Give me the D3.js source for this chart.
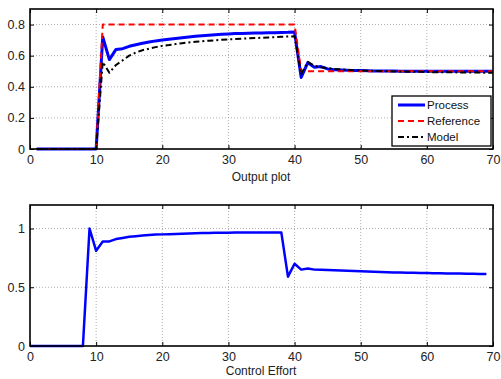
<!DOCTYPE html>
<html>
<head>
<meta charset="utf-8">
<script src="https://cdn.jsdelivr.net/npm/d3@7"></script>
<style>
  body { margin: 0; background: #fff; }
  svg { font-family: "Liberation Sans", Arial, sans-serif; }
  .grid line { stroke: #999; stroke-dasharray: 1,2; stroke-width: 0.8; }
</style>
</head>
<body>
<div id="chart"></div>
<script>
// time axes
const tTop = d3.range(1, 71);      // output plot samples 1..70
const tBottom = d3.range(0, 70);   // control effort samples 0..69

// output plot series
const processVals = [0,0,0,0,0,0,0,0,0,0,
  0.72,0.575,0.64,0.645,0.66,0.67,0.68,0.688,0.695,0.70,
  0.705,0.71,0.715,0.72,0.725,0.728,0.731,0.734,0.737,0.74,
  0.742,0.743,0.744,0.745,0.746,0.747,0.748,0.749,0.75,0.752,
  0.46,0.555,0.525,0.53,0.515,0.51,0.508,0.506,0.505,0.504,
  0.503,0.502,0.502,0.501,0.501,0.5,0.5,0.5,0.5,0.5,
  0.5,0.5,0.5,0.5,0.5,0.5,0.5,0.5,0.5,0.5];
const referenceVals = [0,0,0,0,0,0,0,0,0,0,
  0.8,0.8,0.8,0.8,0.8,0.8,0.8,0.8,0.8,0.8,
  0.8,0.8,0.8,0.8,0.8,0.8,0.8,0.8,0.8,0.8,
  0.8,0.8,0.8,0.8,0.8,0.8,0.8,0.8,0.8,0.8,
  0.5,0.5,0.5,0.5,0.5,0.5,0.5,0.5,0.5,0.5,
  0.5,0.5,0.5,0.5,0.5,0.5,0.5,0.5,0.5,0.5,
  0.5,0.5,0.5,0.5,0.5,0.5,0.5,0.5,0.5,0.5];
const modelVals = [0,0,0,0,0,0,0,0,0,0,
  0.56,0.49,0.54,0.57,0.60,0.62,0.635,0.645,0.655,0.663,
  0.668,0.675,0.68,0.685,0.69,0.693,0.696,0.699,0.702,0.705,
  0.707,0.709,0.711,0.713,0.715,0.717,0.719,0.721,0.723,0.725,
  0.48,0.56,0.535,0.525,0.52,0.515,0.512,0.509,0.507,0.505,
  0.503,0.502,0.501,0.5,0.499,0.498,0.497,0.496,0.496,0.495,
  0.494,0.494,0.493,0.493,0.492,0.492,0.491,0.491,0.49,0.49];

// control effort series
const controlVals = [0,0,0,0,0,0,0,0,0,1.0,
  0.81,0.89,0.89,0.91,0.92,0.93,0.935,0.94,0.945,0.948,
  0.95,0.952,0.954,0.956,0.958,0.96,0.961,0.962,0.963,0.964,
  0.964,0.965,0.965,0.965,0.965,0.965,0.965,0.965,0.965,0.59,
  0.70,0.65,0.66,0.65,0.648,0.646,0.644,0.642,0.64,0.638,
  0.636,0.634,0.632,0.63,0.628,0.626,0.625,0.624,0.623,0.622,
  0.621,0.62,0.619,0.618,0.617,0.616,0.615,0.614,0.613,0.612];

const xTicks = [0, 10, 20, 30, 40, 50, 60, 70];
const yTicksTop = [0, 0.2, 0.4, 0.6, 0.8];
const yTicksBottom = [0, 0.5, 1];
const legendNames = ["Process", "Reference", "Model"];

const width = 501, height = 379;
const svg = d3.select("#chart").append("svg")
  .attr("width", width).attr("height", height);

function panel(top, bottom, yDomain, yTicks, yFmt, series, label, labelY) {
  const x = d3.scaleLinear().domain([0, 70]).range([30, 493]);
  const y = d3.scaleLinear().domain(yDomain).range([bottom, top]);
  const g = svg.append("g");

  g.append("g").attr("class", "grid")
    .selectAll("line.v").data(xTicks.slice(1, -1)).join("line")
    .attr("x1", d => x(d)).attr("x2", d => x(d)).attr("y1", top).attr("y2", bottom);
  g.append("g").attr("class", "grid")
    .selectAll("line.h").data(yTicks.slice(1)).join("line")
    .attr("x1", 30).attr("x2", 493).attr("y1", d => y(d)).attr("y2", d => y(d));

  const line = d3.line().x(d => x(d[0])).y(d => y(d[1]));
  series.forEach(s => {
    g.append("path")
      .datum(s.t.map((t, i) => [t, s.v[i]]))
      .attr("d", line)
      .attr("fill", "none")
      .attr("stroke", s.color)
      .attr("stroke-width", s.w)
      .attr("stroke-dasharray", s.dash || null)
      .attr("stroke-linejoin", "round");
  });

  // box with inward ticks on all sides (MATLAB style)
  const ax = d3.axisBottom(x).tickValues(xTicks).tickSize(-4).tickPadding(6).tickFormat(d3.format("d"));
  g.append("g").attr("transform", `translate(0,${bottom})`).call(ax);
  g.append("g").attr("transform", `translate(0,${top})`)
    .call(d3.axisTop(x).tickValues(xTicks).tickSize(-4).tickFormat(""));
  g.append("g").attr("transform", "translate(30,0)")
    .call(d3.axisLeft(y).tickValues(yTicks).tickSize(-4).tickPadding(5).tickFormat(yFmt));
  g.append("g").attr("transform", "translate(493,0)")
    .call(d3.axisRight(y).tickValues(yTicks).tickSize(-4).tickFormat(""));
  g.selectAll(".domain").remove();
  g.selectAll(".tick line").attr("stroke", "#000").attr("stroke-width", 1);
  g.selectAll(".tick text").attr("font-size", 12.5).attr("fill", "#222")
    .attr("font-family", "Liberation Sans, Arial, sans-serif");
  g.append("rect").attr("x", 30).attr("y", top).attr("width", 463).attr("height", bottom - top)
    .attr("fill", "none").attr("stroke", "#000").attr("stroke-width", 1.6);

  svg.append("text").attr("x", 261).attr("y", labelY).attr("text-anchor", "middle")
    .attr("font-size", 12).attr("fill", "#222").text(label);
  return { x, y, g };
}

const topSeries = [
  { t: tTop, v: processVals, color: "#0000ff", w: 3 },
  { t: tTop, v: referenceVals, color: "#ff0000", w: 2, dash: "6,4" },
  { t: tTop, v: modelVals, color: "#000", w: 2, dash: "6,3,2,3" }
];
panel(9, 149, [0, 0.9], yTicksTop, d3.format("~g"), topSeries, "Output plot", 181);

panel(205, 346, [0, 1.2], yTicksBottom, d3.format("~g"),
  [{ t: tBottom, v: controlVals, color: "#0000ff", w: 2.5 }], "Control Effort", 375);

// legend
const lg = svg.append("g");
lg.append("rect").attr("x", 392).attr("y", 96).attr("width", 99).attr("height", 50)
  .attr("fill", "#fff").attr("stroke", "#000").attr("stroke-width", 1.3);
legendNames.forEach((name, i) => {
  const s = topSeries[i];
  const yy = 105 + i * 16;
  lg.append("line").attr("x1", 398).attr("x2", 425).attr("y1", yy).attr("y2", yy)
    .attr("stroke", s.color).attr("stroke-width", s.w)
    .attr("stroke-dasharray", s.dash || null);
  lg.append("text").attr("x", 427).attr("y", yy + 4).attr("font-size", 11.5)
    .attr("fill", "#111").text(name);
});
</script>
</body>
</html>
